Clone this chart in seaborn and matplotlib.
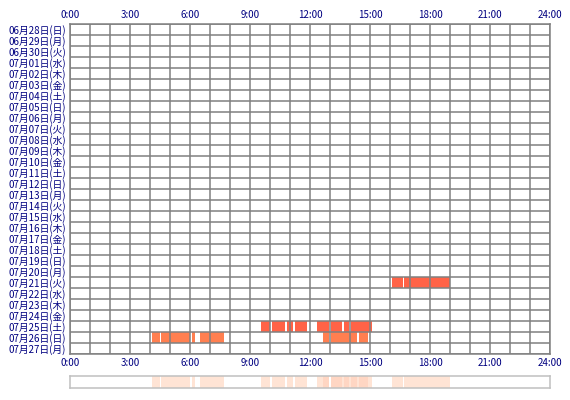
import matplotlib
matplotlib.use("Agg")
import matplotlib.pyplot as plt
import seaborn as sns
import numpy as np
import pandas as pd
from matplotlib.colors import ListedColormap

sns.set_style("white")
plt.rcParams['font.family'] = ['Noto Sans CJK JP', 'DejaVu Sans']

# Day labels (06/28 .. 07/27)
day_labels = ['06月28日(日)', '06月29日(月)', '06月30日(火)', '07月01日(水)', '07月02日(木)',
              '07月03日(金)', '07月04日(土)', '07月05日(日)', '07月06日(月)', '07月07日(火)',
              '07月08日(水)', '07月09日(木)', '07月10日(金)', '07月11日(土)', '07月12日(日)',
              '07月13日(月)', '07月14日(火)', '07月15日(水)', '07月16日(木)', '07月17日(金)',
              '07月18日(土)', '07月19日(日)', '07月20日(月)', '07月21日(火)', '07月22日(水)',
              '07月23日(木)', '07月24日(金)', '07月25日(土)', '07月26日(日)', '07月27日(月)']
hour_labels = ['0:00', '3:00', '6:00', '9:00', '12:00', '15:00', '18:00', '21:00', '24:00']

# Active periods (start hour, end hour) per day
active_0721 = [(16.08, 16.63), (16.70, 19.00)]
active_0725 = [(9.55, 10.02), (10.12, 10.77), (10.83, 11.17), (11.23, 11.85),
               (12.35, 12.97), (13.05, 13.62), (13.70, 13.97), (14.05, 15.08)]
active_0726 = [(4.12, 4.48), (4.55, 6.02), (6.08, 6.27), (6.48, 7.72),
               (12.63, 12.95), (13.05, 14.33), (14.47, 14.92)]

# kind 1 / kind 2 records
activity = {'07月21日(火)': (active_0721, 1),
            '07月25日(土)': (active_0725, 1),
            '07月26日(日)': (active_0726, 2)}

minutes = 24 * 60
mat = np.zeros((len(day_labels), minutes))
for label, (segs, kind) in activity.items():
    r = day_labels.index(label)
    for s, e in segs:
        mat[r, int(round(s * 60)):int(round(e * 60))] = kind
df = pd.DataFrame(mat, index=day_labels)
summary = pd.DataFrame([(mat > 0).sum(axis=0)])

W, H = 570, 400
fig = plt.figure(figsize=(W / 100, H / 100), dpi=100)
ax = fig.add_axes([70 / W, 1 - 354 / H, 480 / W, 330 / H])
ax2 = fig.add_axes([70 / W, 1 - 388 / H, 480 / W, 12 / H])

navy = '#000080'
grid_c = '#808080'

sns.heatmap(df, ax=ax, cbar=False, cmap=ListedColormap(['white', '#FF6347', '#FF7F50']),
            vmin=-0.5, vmax=2.5, xticklabels=False, yticklabels=False)
for h in range(25):
    ax.axvline(h * 60, color=grid_c, lw=1.1)
for r in range(len(day_labels) + 1):
    ax.axhline(r, color=grid_c, lw=1.1)

ax.set_xticks(np.arange(0, minutes + 1, 180))
ax.set_xticklabels(hour_labels)
ax.set_yticks(np.arange(len(day_labels)) + 0.5)
ax.set_yticklabels(day_labels)
ax.tick_params(axis='x', top=True, labeltop=True, bottom=True, labelbottom=True,
               length=0, pad=3, labelsize=7, labelcolor=navy)
ax.tick_params(axis='y', length=0, pad=3, labelsize=7, labelcolor=navy)
for t in ax.get_yticklabels():
    t.set_rotation(0)
ax.set_xlabel('')
ax.set_ylabel('')
for sp in ax.spines.values():
    sp.set_visible(True)
    sp.set_color(grid_c)
    sp.set_linewidth(1.1)

sns.heatmap(summary, ax=ax2, cbar=False, cmap=ListedColormap(['white', '#FFE4D5', '#FFD6C3']),
            vmin=-0.5, vmax=2.5, xticklabels=False, yticklabels=False)
ax2.set_xticks([])
ax2.set_yticks([])
for sp in ax2.spines.values():
    sp.set_visible(True)
    sp.set_color('#C0C0C0')
    sp.set_linewidth(1.1)

fig.savefig('out.png', dpi=100)
